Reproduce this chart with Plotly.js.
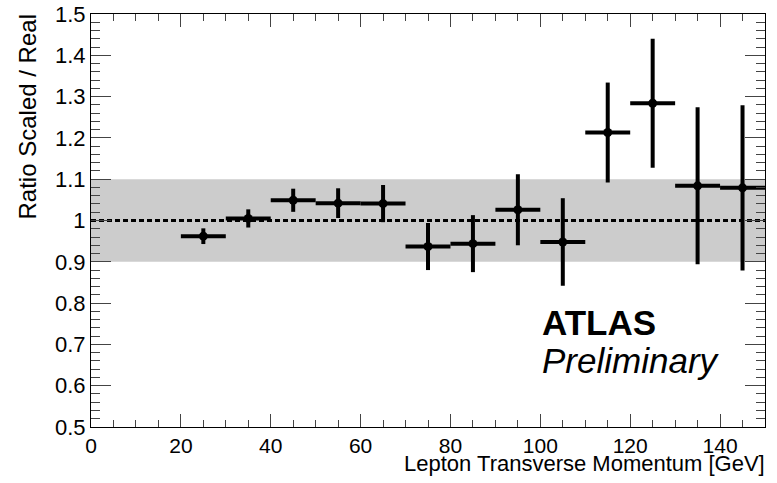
<!DOCTYPE html>
<html>
<head>
<meta charset="utf-8">
<script src="https://cdn.plot.ly/plotly-3.0.1.min.js"></script>
<style>html,body{margin:0;padding:0;background:#fff;}#chart{width:777px;height:483px;}</style>
</head>
<body>
<div id="chart"></div>
<script>
// Bin centres (GeV) and half-widths
const binCentres = [25, 35, 45, 55, 65, 75, 85, 95, 105, 115, 125, 135, 145];
const binHalfWidth = [5, 5, 5, 5, 5, 5, 5, 5, 5, 5, 5, 5, 5];
// Ratio Scaled / Real and its statistical error
const ratioValues = [0.962, 1.005, 1.049, 1.042, 1.041, 0.937, 0.944, 1.026, 0.948, 1.213, 1.284, 1.084, 1.079];
const ratioErrors = [0.019, 0.022, 0.028, 0.036, 0.045, 0.057, 0.069, 0.086, 0.106, 0.121, 0.156, 0.190, 0.200];
// Systematic band and reference line
const bandLow = 0.9;
const bandHigh = 1.1;
const refLine = 1.0;
// Tick labels
const xTickVals = [0, 20, 40, 60, 80, 100, 120, 140];
const xTickText = ["0", "20", "40", "60", "80", "100", "120", "140"];
const yTickVals = [0.5, 0.6, 0.7, 0.8, 0.9, 1.0, 1.1, 1.2, 1.3, 1.4, 1.5];
const yTickText = ["0.5", "0.6", "0.7", "0.8", "0.9", "1", "1.1", "1.2", "1.3", "1.4", "1.5"];

const FONT = "Liberation Sans, Arial, Helvetica, sans-serif";

const trace = {
  type: "scatter",
  mode: "markers",
  x: binCentres,
  y: ratioValues,
  marker: {color: "#000", size: 9, symbol: "circle"},
  error_x: {type: "data", array: binHalfWidth, visible: true, color: "#000", thickness: 4, width: 0},
  error_y: {type: "data", array: ratioErrors, visible: true, color: "#000", thickness: 4, width: 0},
  hoverinfo: "x+y",
  showlegend: false
};

const layout = {
  width: 777,
  height: 483,
  margin: {l: 91, r: 12, t: 14, b: 56},
  paper_bgcolor: "#fff",
  plot_bgcolor: "#fff",
  font: {family: FONT, color: "#000", size: 22},
  showlegend: false,
  xaxis: {
    range: [0, 150],
    showgrid: false,
    zeroline: false,
    showline: true,
    linecolor: "#000",
    linewidth: 1,
    mirror: "allticks",
    ticks: "inside",
    ticklen: 13,
    tickcolor: "#444",
    tickwidth: 1,
    tickvals: xTickVals,
    ticktext: xTickText,
    tickfont: {family: FONT, size: 21, color: "#000"},
    minor: {dtick: 5, ticklen: 7, tickcolor: "#444", ticks: "inside", showgrid: false}
  },
  yaxis: {
    range: [0.5, 1.5],
    showgrid: false,
    zeroline: false,
    showline: true,
    linecolor: "#000",
    linewidth: 1,
    mirror: "allticks",
    ticks: "inside",
    ticklen: 20,
    tickcolor: "#444",
    tickwidth: 1,
    tickvals: yTickVals,
    ticktext: yTickText,
    tickfont: {family: FONT, size: 22, color: "#000"},
    minor: {dtick: 0.02, ticklen: 9, tickcolor: "#444", ticks: "inside", showgrid: false}
  },
  shapes: [
    {type: "rect", xref: "paper", yref: "y", x0: 0, x1: 1, y0: bandLow, y1: bandHigh,
     fillcolor: "#cccccc", line: {width: 0}, layer: "below"},
    {type: "line", xref: "paper", yref: "y", x0: 0, x1: 1, y0: refLine, y1: refLine,
     line: {color: "#000", width: 3, dash: "5px,3px"}, layer: "below"}
  ],
  annotations: [
    {text: "Lepton Transverse Momentum [GeV]", xref: "paper", yref: "paper", x: 1, y: 0,
     xanchor: "right", yanchor: "top", yshift: -22, xshift: 2, showarrow: false,
     font: {family: FONT, size: 22, color: "#000"}},
    {text: "Ratio Scaled / Real", xref: "paper", yref: "paper", x: -0.0935, y: 1,
     xanchor: "center", yanchor: "top", yshift: 2, textangle: -90, showarrow: false,
     font: {family: FONT, size: 24, color: "#000"}},
    {text: "<b>ATLAS</b>", xref: "paper", yref: "paper", x: 0.6706, y: 0.2542,
     xanchor: "left", yanchor: "middle", xshift: -3, showarrow: false,
     font: {family: FONT, size: 35, color: "#000"}},
    {text: "<i>Preliminary</i>", xref: "paper", yref: "paper", x: 0.6706, y: 0.160,
     xanchor: "left", yanchor: "middle", xshift: -3, showarrow: false,
     font: {family: FONT, size: 35, color: "#000"}}
  ]
};

Plotly.newPlot("chart", [trace], layout, {displayModeBar: false, staticPlot: true});
</script>
</body>
</html>
